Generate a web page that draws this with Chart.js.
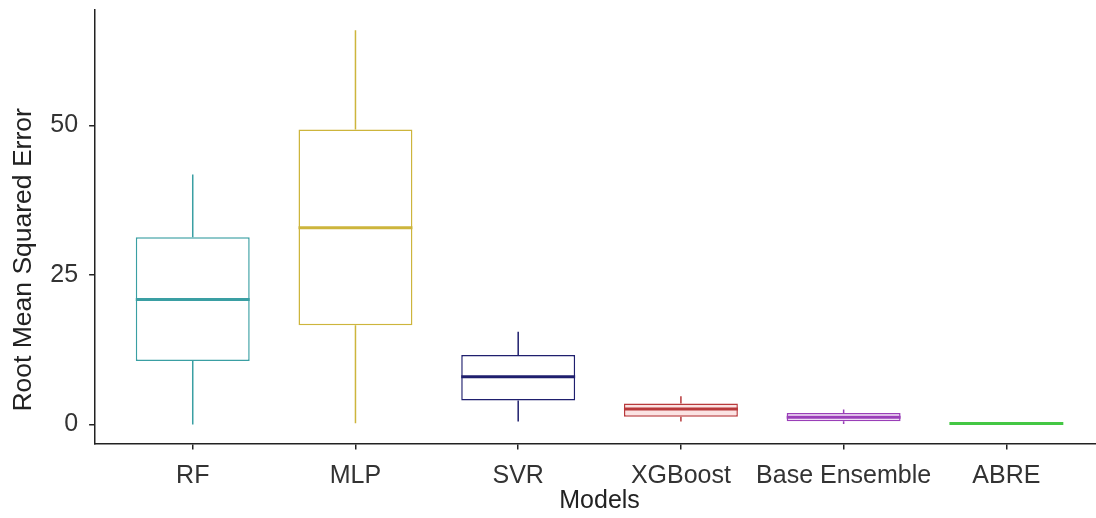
<!DOCTYPE html>
<html>
<head>
<meta charset="utf-8">
<script src="https://cdn.jsdelivr.net/npm/chart.js@4/dist/chart.umd.min.js"></script>
<style>
html,body{margin:0;padding:0;background:#fff;overflow:hidden;}
#wrap{position:relative;width:1112px;height:518px;}
</style>
</head>
<body>
<div id="wrap"><canvas id="c"></canvas></div>
<script>
// ---- data ----
const categories  = ['RF', 'MLP', 'SVR', 'XGBoost', 'Base Ensemble', 'ABRE'];
const whiskerLow  = [0.0, 0.2, 0.5, 0.5, 0.1, 0.15];
const q1          = [10.6, 16.6, 4.0, 1.3, 0.55, 0.15];
const medians     = [20.9, 32.9, 8.0, 2.6, 1.2, 0.15];
const q3          = [31.3, 49.3, 11.6, 3.5, 1.9, 0.15];
const whiskerHigh = [41.8, 65.9, 15.5, 4.7, 2.5, 0.15];
const yTicks      = [0, 25, 50];
const colors      = ['#3A9FA3', '#CDB53C', '#1F1F6E', '#B8393B', '#9A3FB8', '#44C744'];
const fills       = ['#FFFFFF', '#FFFFFF', '#FFFFFF', '#FBE3E3', '#F3E3F8', '#FFFFFF'];
const xTitle      = 'Models';
const yTitle      = 'Root Mean Squared Error';

const FONT = "'Liberation Sans', Arial, sans-serif";

const boxPlugin = {
  id: 'boxWhiskers',
  afterDatasetsDraw(chart) {
    const meta = chart.getDatasetMeta(0);
    const ys = chart.scales.y;
    const ctx = chart.ctx;
    ctx.save();
    meta.data.forEach((bar, i) => {
      const {x, width} = bar.getProps(['x', 'width'], true);
      ctx.strokeStyle = colors[i];
      ctx.lineWidth = 1.5;
      ctx.beginPath();
      ctx.moveTo(x, ys.getPixelForValue(q3[i]));
      ctx.lineTo(x, ys.getPixelForValue(whiskerHigh[i]));
      ctx.moveTo(x, ys.getPixelForValue(q1[i]));
      ctx.lineTo(x, ys.getPixelForValue(whiskerLow[i]));
      ctx.stroke();
      ctx.lineWidth = 3;
      const ym = ys.getPixelForValue(medians[i]);
      ctx.beginPath();
      ctx.moveTo(x - width / 2, ym);
      ctx.lineTo(x + width / 2, ym);
      ctx.stroke();
    });
    ctx.restore();
  }
};

const zeroPad = s => { s.paddingTop = 0; s.paddingBottom = 0; s.paddingLeft = 0; s.paddingRight = 0; };

new Chart(document.getElementById('c'), {
  type: 'bar',
  data: {
    datasets: [{
      data: categories.map((c, i) => ({x: i, y: [q1[i], q3[i]]})),
      backgroundColor: fills,
      borderColor: colors,
      borderWidth: 1.5,
      borderSkipped: false,
      barPercentage: 0.7,
      categoryPercentage: 1.0
    }]
  },
  plugins: [boxPlugin],
  options: {
    responsive: true,
    maintainAspectRatio: false,
    animation: false,
    devicePixelRatio: 1,
    layout: {padding: {left: 0, top: 10, right: 8, bottom: 2}},
    plugins: {legend: {display: false}, tooltip: {enabled: false}},
    scales: {
      x: {
        type: 'linear',
        offset: false,
        min: -0.6,
        max: 5.6,
        afterBuildTicks: s => { s.ticks = categories.map((c, i) => ({value: i})); },
        afterFit: zeroPad,
        ticks: {
          callback: v => categories[v],
          font: {family: FONT, size: 25},
          color: '#333',
          padding: 12,
          autoSkip: false,
          maxRotation: 0
        },
        grid: {offset: false, drawOnChartArea: false, drawTicks: true, tickLength: 6, color: '#222', lineWidth: 1.5},
        border: {display: true, color: '#222', width: 1.5},
        title: {display: true, text: xTitle, font: {family: FONT, size: 25}, color: '#222', padding: {top: -17.5, bottom: 0}}
      },
      y: {
        type: 'linear',
        min: -3.18,
        max: 69.3,
        afterBuildTicks: s => { s.ticks = yTicks.map(v => ({value: v})); },
        afterFit: zeroPad,
        ticks: {
          font: {family: FONT, size: 25},
          color: '#333',
          padding: 11
        },
        grid: {drawOnChartArea: false, drawTicks: true, tickLength: 6, color: '#222', lineWidth: 1.5},
        border: {display: true, color: '#222', width: 1.5},
        title: {display: true, text: yTitle + '\u00a0'.repeat(9), font: {family: FONT, size: 26.5}, color: '#222', padding: {top: 7.5, bottom: 0}}
      }
    }
  }
});
</script>
</body>
</html>
